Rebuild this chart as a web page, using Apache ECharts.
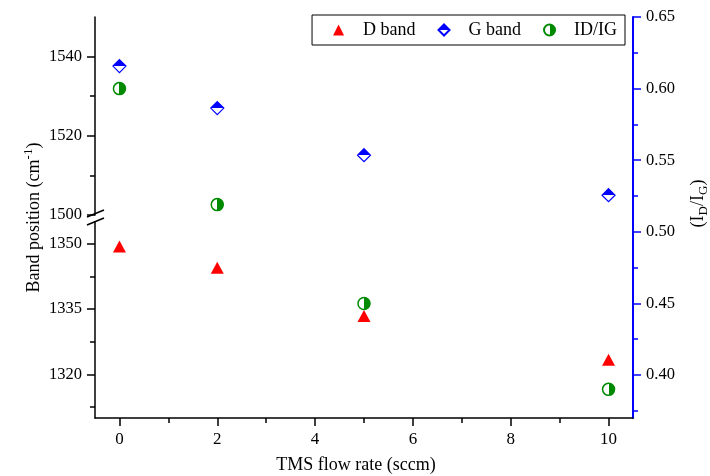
<!DOCTYPE html>
<html>
<head>
<meta charset="utf-8">
<script src="https://cdn.jsdelivr.net/npm/echarts@6/dist/echarts.min.js"></script>
<style>
  html, body { margin: 0; padding: 0; background: #fff; }
  #chart { width: 710px; height: 476px; }
</style>
</head>
<body>
<div id="chart"></div>
<script>
// flow rate (sccm)
var xValues = [0, 2, 5, 10];
// band positions (cm-1)
var dBand = [1349.4, 1344.5, 1333.4, 1323.4];
var gBand = [1537.6, 1527.0, 1515.1, 1505.0];
// intensity ratio
var ratio = [0.600, 0.519, 0.450, 0.390];

// tick values
var xTicks = [0, 2, 4, 6, 8, 10];
var xMinor = [1, 3, 5, 7, 9];
var upperTicks = [1500, 1520, 1540];
var upperMinor = [1510, 1530];
var lowerTicks = [1320, 1335, 1350];
var lowerMinor = [1312.5, 1327.5, 1342.5];
var ratioTicks = [0.40, 0.45, 0.50, 0.55, 0.60, 0.65];
var ratioMinor = [0.375, 0.425, 0.475, 0.525, 0.575, 0.625];

var font = 'Liberation Serif';
var red = '#ff0000', blue = '#0000ff', green = '#008a00';

function pairs(ys) {
  return xValues.map(function (x, i) { return [x, ys[i]]; });
}

function yAx(grid, pos, min, max, ticks, len, color, label, fmt) {
  return {
    type: 'value', gridIndex: grid, position: pos, min: min, max: max,
    axisLine: { show: label, onZero: false, lineStyle: { color: color, width: pos == 'right' ? 2 : 1.5 } },
    axisTick: { customValues: ticks, length: len, lineStyle: { color: color, width: 1.5 } },
    axisLabel: {
      show: label, customValues: ticks, margin: 13, color: '#000',
      fontFamily: font, fontSize: 16.5, formatter: fmt || function (v) { return String(v); }
    },
    splitLine: { show: false }
  };
}

var chart = echarts.init(document.getElementById('chart'));

var option = {
  animation: false,
  grid: [
    { left: 95, right: 77, top: 17, height: 198, outerBoundsMode: 'none' },
    { left: 95, right: 77, top: 222, height: 196, outerBoundsMode: 'none' },
    { left: 95, right: 77, top: 17, height: 401, outerBoundsMode: 'none' }
  ],
  legend: {
    top: 15, right: 85,
    borderColor: '#000', borderWidth: 1,
    padding: [6, 8, 6, 21],
    itemWidth: 11, itemHeight: 11, itemGap: 22,
    textStyle: { fontFamily: font, fontSize: 18, color: '#000', padding: [0, 0, 0, 14] },
    data: ['D band', 'G band', 'ID/IG']
  },
  xAxis: [
    { type: 'value', gridIndex: 0, min: -0.5, max: 10.5, show: false },
    { type: 'value', gridIndex: 1, min: -0.5, max: 10.5, show: false },
    {
      type: 'value', gridIndex: 2, position: 'bottom', min: -0.5, max: 10.5,
      axisLine: { onZero: false, lineStyle: { color: '#000', width: 1.5 } },
      axisTick: { customValues: xTicks, length: 8, lineStyle: { width: 1.5 } },
      axisLabel: { customValues: xTicks, margin: 13, color: '#000', fontFamily: font, fontSize: 17 },
      splitLine: { show: false },
      name: 'TMS flow rate (sccm)', nameLocation: 'middle', nameGap: 38,
      nameTextStyle: { fontFamily: font, fontSize: 18, color: '#000', padding: [0, 16, 0, 0] }
    },
    {
      type: 'value', gridIndex: 2, position: 'bottom', min: -0.5, max: 10.5,
      axisLine: { show: false, onZero: false },
      axisTick: { customValues: xMinor, length: 5, lineStyle: { color: '#000', width: 1.5 } },
      axisLabel: { show: false },
      splitLine: { show: false }
    }
  ],
  yAxis: [
    yAx(0, 'left', 1500, 1550, upperTicks, 8, '#000', true),
    yAx(0, 'left', 1500, 1550, upperMinor, 5, '#000', false),
    yAx(1, 'left', 1310, 1355, lowerTicks, 8, '#000', true),
    yAx(1, 'left', 1310, 1355, lowerMinor, 5, '#000', false),
    Object.assign(yAx(2, 'right', 0.37, 0.65, ratioTicks, 8, blue, true, function (v) { return v.toFixed(2); }), {
      name: '(I{sub|D}/I{sub|G})', nameLocation: 'middle', nameGap: 44, nameRotate: 90,
      nameTextStyle: {
        fontFamily: font, fontSize: 18, color: '#000', lineHeight: 24, padding: [0, 0, 0, 28],
        rich: { sub: { fontFamily: font, fontSize: 13, verticalAlign: 'bottom', lineHeight: 24, padding: [8, 0, 0, 0] } }
      }
    }),
    yAx(2, 'right', 0.37, 0.65, ratioMinor, 5, blue, false),
    {
      type: 'value', gridIndex: 2, position: 'left', min: 0, max: 1,
      axisLine: { show: false, onZero: false }, axisTick: { show: false }, axisLabel: { show: false },
      splitLine: { show: false },
      name: 'Band position (cm{sup|-1})', nameLocation: 'middle', nameGap: 49, nameRotate: 90,
      nameTextStyle: {
        fontFamily: font, fontSize: 18, color: '#000', lineHeight: 24,
        rich: { sup: { fontFamily: font, fontSize: 13, verticalAlign: 'top', lineHeight: 24, padding: [0, 0, 8, 0] } }
      }
    }
  ],
  graphic: [
    { type: 'line', shape: { x1: 87, y1: 217, x2: 104, y2: 210 }, style: { stroke: '#000', lineWidth: 1.5 } },
    { type: 'line', shape: { x1: 87, y1: 225, x2: 104, y2: 218 }, style: { stroke: '#000', lineWidth: 1.5 } }
  ],
  series: [
    {
      name: 'D band', type: 'scatter', xAxisIndex: 1, yAxisIndex: 2,
      symbol: 'triangle', symbolSize: [13, 12],
      itemStyle: { color: red, opacity: 1 },
      data: pairs(dBand)
    },
    {
      name: 'G band', type: 'scatter', xAxisIndex: 0, yAxisIndex: 0,
      symbol: 'diamond', symbolSize: 13,
      itemStyle: {
        color: new echarts.graphic.LinearGradient(0, 0, 0, 1, [
          { offset: 0, color: blue }, { offset: 0.5, color: blue },
          { offset: 0.5, color: '#fff' }, { offset: 1, color: '#fff' }
        ]),
        borderColor: blue, borderWidth: 1.2, opacity: 1
      },
      data: pairs(gBand)
    },
    {
      name: 'ID/IG', type: 'scatter', xAxisIndex: 2, yAxisIndex: 4,
      symbol: 'circle', symbolSize: 12,
      itemStyle: {
        color: new echarts.graphic.LinearGradient(0, 0, 1, 0, [
          { offset: 0, color: '#fff' }, { offset: 0.5, color: '#fff' },
          { offset: 0.5, color: green }, { offset: 1, color: green }
        ]),
        borderColor: green, borderWidth: 1.5, opacity: 1
      },
      data: pairs(ratio)
    }
  ]
};

chart.setOption(option);
</script>
</body>
</html>
